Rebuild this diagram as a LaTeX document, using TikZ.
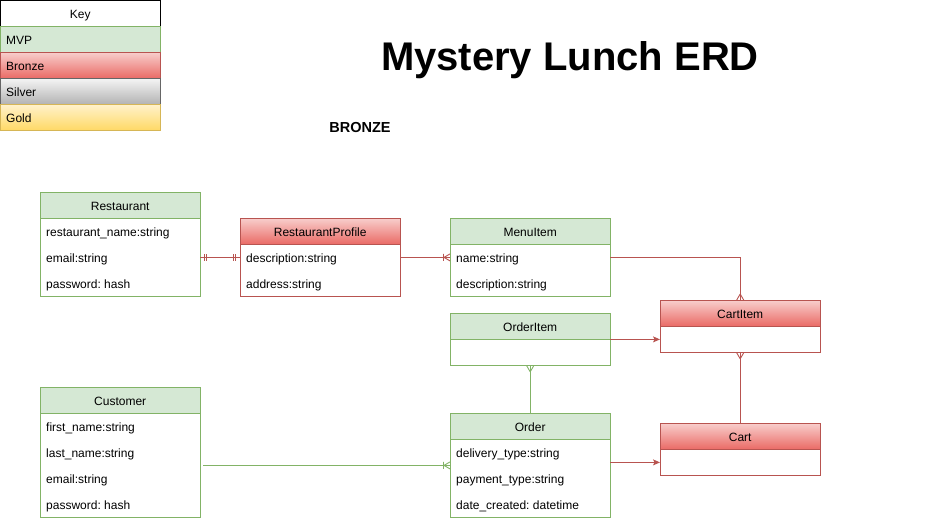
\documentclass[tikz,border=0pt]{standalone}
\usepackage{fontspec}
\setmainfont{Liberation Sans}
\usetikzlibrary{arrows.meta,positioning,calc}
\frenchspacing

\definecolor{mvpfill}{HTML}{D5E8D4}
\definecolor{mvpline}{HTML}{82B366}
\definecolor{bronzetop}{HTML}{F8CECC}
\definecolor{bronzebot}{HTML}{EA6B66}
\definecolor{bronzeline}{HTML}{B85450}
\definecolor{silvertop}{HTML}{F5F5F5}
\definecolor{silverbot}{HTML}{B3B3B3}
\definecolor{silverline}{HTML}{666666}
\definecolor{goldtop}{HTML}{FFF2CC}
\definecolor{goldbot}{HTML}{FFD966}
\definecolor{goldline}{HTML}{D6B656}

% ER line ends
\pgfdeclarearrow{
  name=Crow,
  setup code={\pgfarrowssettipend{0pt}\pgfarrowssetlineend{0pt}\pgfarrowssetbackend{-6pt}},
  drawing code={
    \pgfpathmoveto{\pgfqpoint{-6pt}{0pt}}\pgfpathlineto{\pgfqpoint{0pt}{3.5pt}}
    \pgfpathmoveto{\pgfqpoint{-6pt}{0pt}}\pgfpathlineto{\pgfqpoint{0pt}{-3.5pt}}
    \pgfusepathqstroke},
}
\pgfdeclarearrow{
  name=CrowBar,
  setup code={\pgfarrowssettipend{0pt}\pgfarrowssetlineend{0pt}\pgfarrowssetbackend{-8pt}},
  drawing code={
    \pgfpathmoveto{\pgfqpoint{-6pt}{0pt}}\pgfpathlineto{\pgfqpoint{0pt}{3.5pt}}
    \pgfpathmoveto{\pgfqpoint{-6pt}{0pt}}\pgfpathlineto{\pgfqpoint{0pt}{-3.5pt}}
    \pgfpathmoveto{\pgfqpoint{-6.5pt}{3.5pt}}\pgfpathlineto{\pgfqpoint{-6.5pt}{-3.5pt}}
    \pgfusepathqstroke},
}
\pgfdeclarearrow{
  name=TwoBar,
  setup code={\pgfarrowssettipend{0pt}\pgfarrowssetlineend{0pt}\pgfarrowssetbackend{-7pt}},
  drawing code={
    \pgfpathmoveto{\pgfqpoint{-4.5pt}{3.2pt}}\pgfpathlineto{\pgfqpoint{-4.5pt}{-3.2pt}}
    \pgfpathmoveto{\pgfqpoint{-6.5pt}{3.2pt}}\pgfpathlineto{\pgfqpoint{-6.5pt}{-3.2pt}}
    \pgfusepathqstroke},
}
\tikzset{Flow/.tip={Stealth[length=7pt, width=6pt, inset=1.5pt]}}

\begin{document}
\begin{tikzpicture}[
  x=1pt, y=-1pt, >=Stealth,
  hd/.style={draw, minimum width=160pt, minimum height=26pt, inner sep=0pt, anchor=north west,
    text height=10.4pt, text depth=0pt, font=\fontsize{12}{14}\selectfont},
  mvp/.style={hd, fill=mvpfill, draw=mvpline},
  bronze/.style={hd, top color=bronzetop, bottom color=bronzebot, draw=bronzeline},
  silver/.style={hd, top color=silvertop, bottom color=silverbot, draw=silverline},
  gold/.style={hd, top color=goldtop, bottom color=goldbot, draw=goldline},
  keyrow/.style={text width=148pt, inner xsep=6pt, align=left},
  bodybox/.style={draw, fill=white, minimum width=160pt, inner sep=0pt},
  mvpbody/.style={bodybox, draw=mvpline},
  bronzebody/.style={bodybox, draw=bronzeline},
  field/.style={anchor=west, inner sep=0pt, text height=10.4pt, text depth=0pt, font=\fontsize{12}{14}\selectfont},
  redline/.style={draw=bronzeline, line width=0.9pt},
  greenline/.style={draw=mvpline, line width=0.9pt},
]
  \useasboundingbox (0,0) rectangle (951,521);

  % key
  \node[hd, fill=white, draw=black] (key) at (0,0) {Key};
  \node[mvp, keyrow] (kmvp) at (0,26) {MVP};
  \node[bronze, keyrow] (kbronze) at (0,52) {Bronze};
  \node[silver, keyrow] (ksilver) at (0,78) {Silver};
  \node[gold, keyrow] (kgold) at (0,104) {Gold};

  \node[font=\bfseries\fontsize{40}{48}\selectfont, anchor=base] (title) at (570,71) {Mystery Lunch ERD};
  \node[font=\bfseries\fontsize{14.5}{17}\selectfont, anchor=base] (tier) at (360,133) {BRONZE};

  % entities
  \node[mvp] (restaurant) at (40,192) {Restaurant};
  \node[mvpbody, minimum height=78pt, below=0pt of restaurant] (restaurant-b) {};
  \foreach \f [count=\i] in {restaurant\_name:string, email:string, password: hash}
    \node[field] (restaurant-\i) at ($(restaurant-b.north west)+(6,{13+26*(\i-1)})$) {\f};

  \node[bronze] (rprofile) at (240,218) {RestaurantProfile};
  \node[bronzebody, minimum height=52pt, below=0pt of rprofile] (rprofile-b) {};
  \foreach \f [count=\i] in {description:string, address:string}
    \node[field] (rprofile-\i) at ($(rprofile-b.north west)+(6,{13+26*(\i-1)})$) {\f};

  \node[mvp] (menuitem) at (450,218) {MenuItem};
  \node[mvpbody, minimum height=52pt, below=0pt of menuitem] (menuitem-b) {};
  \foreach \f [count=\i] in {name:string, description:string}
    \node[field] (menuitem-\i) at ($(menuitem-b.north west)+(6,{13+26*(\i-1)})$) {\f};

  \node[bronze] (cartitem) at (660,300) {CartItem};
  \node[bronzebody, minimum height=26pt, below=0pt of cartitem] (cartitem-b) {};

  \node[mvp] (orderitem) at (450,313) {OrderItem};
  \node[mvpbody, minimum height=26pt, below=0pt of orderitem] (orderitem-b) {};

  \node[mvp] (customer) at (40,387) {Customer};
  \node[mvpbody, minimum height=104pt, below=0pt of customer] (customer-b) {};
  \foreach \f [count=\i] in {first\_name:string, last\_name:string, email:string, password: hash}
    \node[field] (customer-\i) at ($(customer-b.north west)+(6,{13+26*(\i-1)})$) {\f};

  \node[mvp] (order) at (450,413) {Order};
  \node[mvpbody, minimum height=78pt, below=0pt of order] (order-b) {};
  \foreach \f [count=\i] in {delivery\_type:string, payment\_type:string, date\_created: datetime}
    \node[field] (order-\i) at ($(order-b.north west)+(6,{13+26*(\i-1)})$) {\f};

  \node[bronze] (cart) at (660,423) {Cart};
  \node[bronzebody, minimum height=26pt, below=0pt of cart] (cart-b) {};

  % relations
  \draw[redline, {TwoBar}-{TwoBar}] (restaurant-b.east |- restaurant-2) -- (rprofile-b.west |- rprofile-1);
  \draw[redline, -{CrowBar}] (rprofile-b.east |- rprofile-1) -- (menuitem-b.west |- menuitem-1);
  \draw[redline, -{Crow}] (menuitem-b.east |- menuitem-1) -| (cartitem.north);
  \draw[redline, -{Flow}] (orderitem.south east) -- (orderitem.south east -| cartitem-b.west);
  \draw[greenline, -{Crow}] (order.north) -- (orderitem-b.south);
  \draw[redline, -{Crow}] (cart.north) -- (cartitem-b.south);
  \coordinate (c2o) at ([yshift=-52pt]customer.south east);
  \draw[greenline, -{CrowBar}, shorten <=3pt] (c2o) -- (c2o -| order-b.west);
  \coordinate (o2c) at ([yshift=-23pt]order.south east);
  \draw[redline, -{Flow}] (o2c) -- (o2c -| cart-b.west);
\end{tikzpicture}
\end{document}
